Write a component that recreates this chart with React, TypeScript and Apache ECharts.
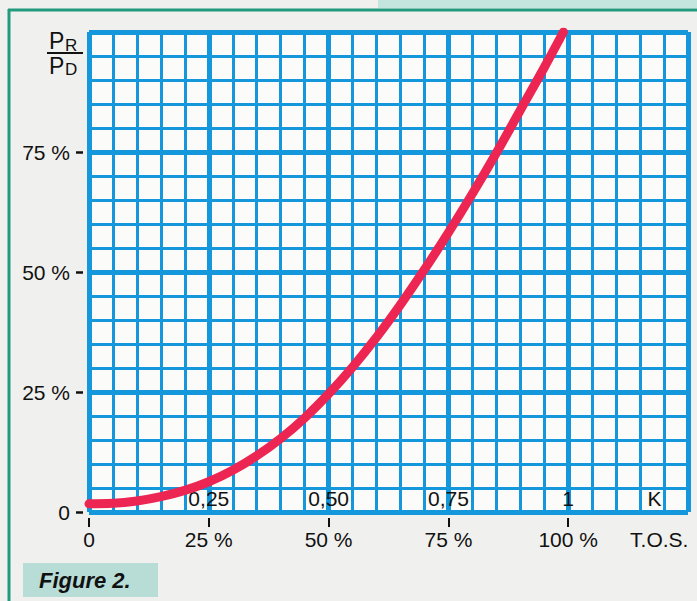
import React, { useEffect, useRef } from "react";
import * as echarts from "echarts";

// T.O.S. (x, %) and reflected/direct power ratio (y, %)
const tosX = [0, 5, 10, 15, 20, 25, 30, 35, 40, 45, 50, 55, 60, 65, 70, 75, 80, 85, 90, 95, 99];
const ratioY = [1.7, 1.8, 2.3, 3.2, 4.5, 6.3, 8.7, 11.7, 15.3, 19.6, 24.6, 30.2, 36.4, 43.2, 50.5, 58.2, 66.3, 74.8, 83.7, 92.6, 100];

const tosTickValues = [0, 25, 50, 75, 100];
const tosLabelValues = [0, 25, 50, 75, 100, 119];
const tosLabels = ["0", "25 %", "50 %", "75 %", "100 %", "T.O.S."];

const kLabelValues = [25, 50, 75, 100, 118];
const kLabels = ["0,25", "0,50", "0,75", "1", "K"];

const yTickValues = [0, 25, 50, 75];
const yLabels = ["0", "25 %", "50 %", "75 %"];

const FONT = '"Liberation Sans", Arial, Helvetica, sans-serif';
const BLUE = "#1597dc";
const INK = "#111111";

export default function App() {
  const ref = useRef<HTMLDivElement>(null);

  useEffect(() => {
    if (!ref.current) return;
    const chart = echarts.init(ref.current, null, { renderer: "svg" });
    const data = tosX.map((x, i) => [x, ratioY[i]]);
    const lookup = (vals: number[], labels: string[]) => (v: number) => {
      const i = vals.findIndex((x) => Math.abs(x - v) < 1e-6);
      return i >= 0 ? labels[i] : "";
    };
    chart.setOption({
      animation: false,
      backgroundColor: "#f0f0ee",
      grid: {
        left: 89,
        top: 32,
        right: 9,
        bottom: 89,
        show: true,
        backgroundColor: "#fbfbfa",
        borderWidth: 0,
      },
      xAxis: [
        {
          type: "value",
          min: 0,
          max: 125,
          interval: 25,
          position: "bottom",
          axisLine: { show: false, onZero: false },
          axisTick: { show: false },
          axisLabel: { show: false },
          splitLine: { show: true, lineStyle: { color: BLUE, width: 5 } },
          minorTick: { show: false, splitNumber: 5 },
          minorSplitLine: { show: true, lineStyle: { color: BLUE, width: 3 } },
        },
        {
          type: "value",
          min: 0,
          max: 125,
          interval: 25,
          position: "bottom",
          offset: 6,
          axisLine: { show: false, onZero: false },
          axisTick: {
            show: true,
            length: 9,
            customValues: tosTickValues,
            lineStyle: { color: INK, width: 2 },
          },
          axisLabel: {
            show: true,
            customValues: tosLabelValues,
            formatter: lookup(tosLabelValues, tosLabels),
            margin: 11,
            color: INK,
            fontSize: 21,
            fontFamily: FONT,
          },
          splitLine: { show: false },
        },
        {
          type: "value",
          min: 0,
          max: 125,
          interval: 25,
          position: "bottom",
          axisLine: { show: false, onZero: false },
          axisTick: { show: false },
          axisLabel: {
            show: true,
            inside: true,
            customValues: kLabelValues,
            formatter: lookup(kLabelValues, kLabels),
            margin: 3,
            color: INK,
            fontSize: 21,
            fontFamily: FONT,
          },
          splitLine: { show: false },
        },
      ],
      yAxis: [
        {
          type: "value",
          min: 0,
          max: 100,
          interval: 25,
          position: "left",
          axisLine: { show: false, onZero: false },
          axisTick: { show: false },
          axisLabel: { show: false },
          splitLine: { show: true, lineStyle: { color: BLUE, width: 5 } },
          minorTick: { show: false, splitNumber: 5 },
          minorSplitLine: { show: true, lineStyle: { color: BLUE, width: 3 } },
        },
        {
          type: "value",
          min: 0,
          max: 100,
          interval: 25,
          position: "left",
          offset: 6,
          axisLine: { show: false, onZero: false },
          axisTick: {
            show: true,
            length: 7,
            customValues: yTickValues,
            lineStyle: { color: INK, width: 2.5 },
          },
          axisLabel: {
            show: true,
            customValues: yTickValues,
            formatter: lookup(yTickValues, yLabels),
            margin: 13,
            color: INK,
            fontSize: 21,
            fontFamily: FONT,
          },
          splitLine: { show: false },
        },
      ],
      series: [
        {
          type: "line",
          xAxisIndex: 0,
          yAxisIndex: 0,
          data,
          smooth: 0.4,
          symbol: "none",
          clip: true,
          lineStyle: { color: "#ec2552", width: 9, cap: "round" },
          z: 5,
        },
      ],
      graphic: [
        { type: "rect", silent: true, shape: { x: 378, y: 0, width: 319, height: 8 }, style: { fill: "#c4e5dd" } },
        { type: "line", silent: true, shape: { x1: 8, y1: 10, x2: 697, y2: 10 }, style: { stroke: "#219a7d", lineWidth: 3 } },
        { type: "line", silent: true, shape: { x1: 9, y1: 9, x2: 9, y2: 601 }, style: { stroke: "#219a7d", lineWidth: 3 } },
        { type: "rect", silent: true, shape: { x: 23, y: 563, width: 135, height: 34 }, style: { fill: "#b8ddd6" } },
        {
          type: "text",
          silent: true,
          x: 39,
          y: 580,
          style: { text: "Figure 2.", font: `italic bold 22px ${FONT}`, fill: INK, verticalAlign: "middle", align: "left" },
        },
        {
          type: "text",
          silent: true,
          x: 49,
          y: 41,
          style: { text: "P", font: `23px ${FONT}`, fill: INK, verticalAlign: "middle", align: "left" },
        },
        {
          type: "text",
          silent: true,
          x: 65,
          y: 45,
          style: { text: "R", font: `17px ${FONT}`, fill: INK, verticalAlign: "middle", align: "left" },
        },
        { type: "line", silent: true, shape: { x1: 47, y1: 53, x2: 83, y2: 53 }, style: { stroke: INK, lineWidth: 2 } },
        {
          type: "text",
          silent: true,
          x: 49,
          y: 66,
          style: { text: "P", font: `23px ${FONT}`, fill: INK, verticalAlign: "middle", align: "left" },
        },
        {
          type: "text",
          silent: true,
          x: 65,
          y: 69,
          style: { text: "D", font: `17px ${FONT}`, fill: INK, verticalAlign: "middle", align: "left" },
        },
      ],
    });
    return () => chart.dispose();
  }, []);

  return (
    <div
      ref={ref}
      style={{ position: "fixed", left: 0, top: 0, width: 697, height: 601 }}
    />
  );
}
